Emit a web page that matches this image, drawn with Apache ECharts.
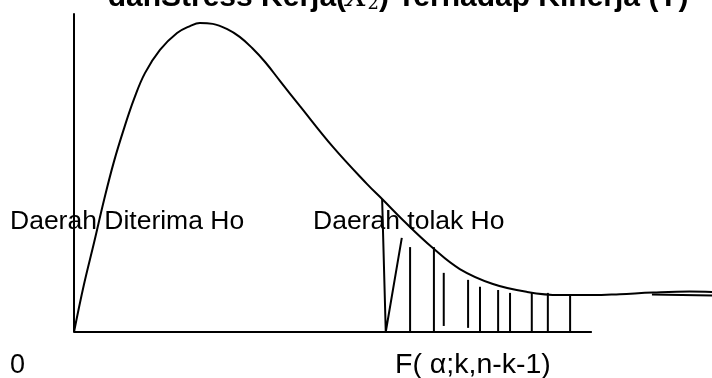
<!DOCTYPE html>
<html>
<head>
<meta charset="utf-8">
<script src="https://cdn.jsdelivr.net/npm/echarts@6/dist/echarts.min.js"></script>
<style>
  html, body { margin: 0; padding: 0; background: #fff; }
  #chart { width: 712px; height: 378px; }
</style>
</head>
<body>
<div id="chart"></div>
<script>
// F-distribution density sketch: acceptance and rejection regions of Ho
const densityCurve = [
  [0, 0], [0.19, 1.48], [0.39, 2.83], [0.58, 4.15], [0.77, 5.35],
  [0.97, 6.42], [1.16, 7.33], [1.37, 8.14], [1.66, 8.87], [1.99, 9.40],
  [2.24, 9.62], [2.43, 9.72], [2.68, 9.69], [2.95, 9.53], [3.20, 9.28],
  [3.44, 8.93], [3.69, 8.49], [3.98, 7.89], [4.36, 7.11], [5.00, 5.82],
  [5.66, 4.65], [5.95, 4.18], [6.35, 3.52], [6.93, 2.64], [7.45, 1.98],
  [8.09, 1.51], [8.75, 1.26], [9.38, 1.16], [10.02, 1.16], [10.54, 1.19],
  [11.18, 1.24], [11.89, 1.27], [12.32, 1.26]
];
// second stroke at the far end of the tail
const tailStroke = [[11.16, 1.18], [12.32, 1.15]];
// horizontal base line of the distribution
const baseLine = [[0, 0], [10, 0]];
// critical value boundary and the first slanted hatch stroke
const criticalEdge = [[5.95, 4.18], [6.02, 0], [6.33, 2.96]];
// vertical hatch strokes in the rejection region
const hatchX = [6.49, 6.95, 7.14, 7.61, 7.84, 8.19, 8.42, 8.84, 9.15, 9.58];
const hatchTop = [2.67, 2.67, 1.86, 1.64, 1.42, 1.32, 1.23, 1.23, 1.23, 1.19];
const hatchBottom = [0, 0, 0.19, 0.13, 0, 0, 0, 0, 0, 0];

const titleParts = ['danStress Kerja(', 'X', '2', ') Terhadap Kinerja (Y)'];
const regionLabels = ['Daerah Diterima Ho', 'Daerah tolak Ho'];
const axisLabels = ['0', 'F( α;k,n-k-1)'];

const chart = echarts.init(document.getElementById('chart'), null, { renderer: 'canvas' });
const FONT = '"Liberation Sans", Arial, sans-serif';
const ink = '#000';
const lineStyle = { color: ink, width: 2 };

chart.setOption({
  animation: false,
  backgroundColor: '#fff',
  grid: { left: 74, right: 0, top: 14, bottom: 46, containLabel: false },
  xAxis: {
    type: 'value', min: 0, max: 12.32,
    axisLine: { show: false }, axisTick: { show: false },
    axisLabel: { show: false }, splitLine: { show: false }
  },
  yAxis: {
    type: 'value', min: 0, max: 10,
    axisLine: { show: true, lineStyle: { color: ink, width: 2 } },
    axisTick: { show: false }, axisLabel: { show: false }, splitLine: { show: false }
  },
  series: [
    {
      type: 'line', data: baseLine, clip: false,
      showSymbol: false, lineStyle: lineStyle
    },
    {
      type: 'line', data: densityCurve, smooth: 0.4, clip: false,
      showSymbol: false, lineStyle: lineStyle
    },
    {
      type: 'line', data: tailStroke, clip: false,
      showSymbol: false, lineStyle: lineStyle
    },
    {
      type: 'line', data: criticalEdge, clip: false,
      showSymbol: false, lineStyle: lineStyle
    },
    {
      type: 'custom', clip: false,
      data: hatchX.map((x, i) => [x, hatchBottom[i], hatchTop[i]]),
      renderItem: function (params, api) {
        const a = api.coord([api.value(0), api.value(1)]);
        const b = api.coord([api.value(0), api.value(2)]);
        return {
          type: 'line',
          shape: { x1: a[0], y1: a[1], x2: b[0], y2: b[1] },
          style: { stroke: ink, lineWidth: 2 }
        };
      }
    }
  ],
  graphic: [
    {
      type: 'text', x: 398, y: -17,
      style: {
        text: '{a|' + titleParts[0] + '}{x|' + titleParts[1] + '}{s|' + titleParts[2] + '}{a|' + titleParts[3] + '}',
        align: 'center',
        rich: {
          a: { font: 'bold 30px ' + FONT, fill: ink },
          x: { font: 'italic 30px "DejaVu Serif", serif', fill: ink },
          s: { font: '18px "DejaVu Serif", serif', fill: ink, verticalAlign: 'bottom' }
        }
      }
    },
    { type: 'text', x: 10, y: 222, style: { text: regionLabels[0], font: '26.5px ' + FONT, fill: ink, verticalAlign: 'middle' } },
    { type: 'text', x: 313, y: 222, style: { text: regionLabels[1], font: '26.5px ' + FONT, fill: ink, verticalAlign: 'middle' } },
    { type: 'text', x: 10, y: 366, style: { text: axisLabels[0], font: '27px ' + FONT, fill: ink, verticalAlign: 'middle' } },
    { type: 'text', x: 395, y: 365, style: { text: axisLabels[1], font: '28.5px ' + FONT, fill: ink, verticalAlign: 'middle' } }
  ]
});
</script>
</body>
</html>
